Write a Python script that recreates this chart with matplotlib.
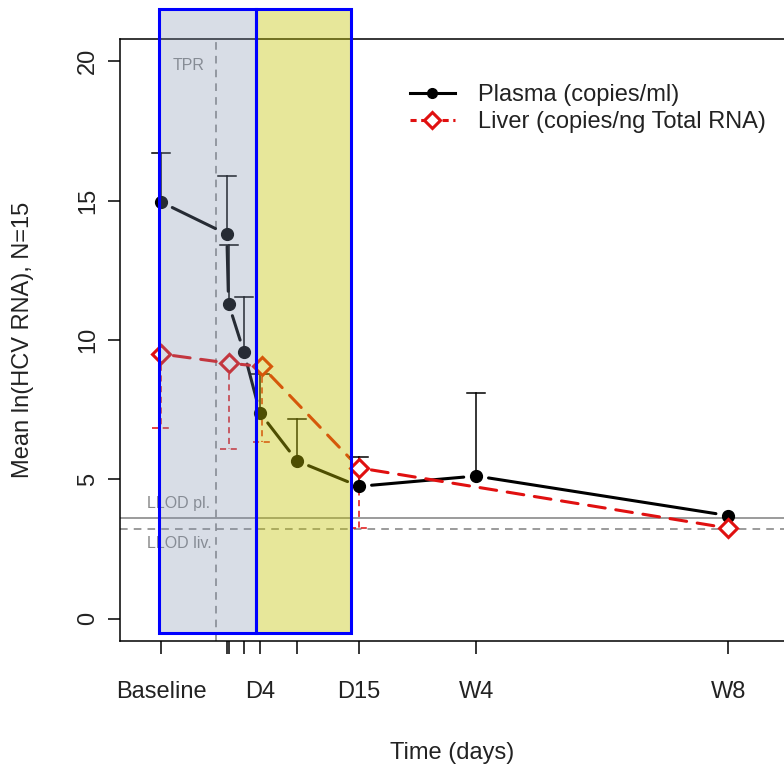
import matplotlib
matplotlib.use("Agg")
import matplotlib.pyplot as plt
from matplotlib.patches import Rectangle
from matplotlib.lines import Line2D

plt.rcParams['font.family'] = ['Liberation Sans', 'DejaVu Sans']

# ---------------- data ----------------
plasma_x = [-7, 0.3, 0.5, 2.2, 4, 8.1, 15, 28, 56]
plasma_y = [14.95, 13.8, 11.3, 9.57, 7.38, 5.66, 4.75, 5.12, 3.7]
plasma_hi = [16.7, 15.9, 13.4, 11.55, 8.78, 7.17, 5.8, 8.1, None]

liver_x = [-7, 0.5, 4.2, 15, 56]
liver_y = [9.5, 9.17, 9.05, 5.41, 3.25]
liver_lo = [6.85, 6.1, 6.35, 3.26, None]

tick_pos = [-7, 0.3, 0.5, 2.2, 4, 8.1, 15, 28, 56]
tick_lab = ["Baseline", "", "", "", "D4", "", "D15", "W4", "W8"]

llod_plasma = 3.62
llod_liver = 3.23
tpr_x = -0.9
blue_band = (-7.2, 3.55)
yellow_band = (3.55, 14.1)
band_y = (-0.5, 21.86)

# ---------------- figure ----------------
W, H = 784, 765
fig = plt.figure(figsize=(W / 100, H / 100), dpi=100)
ax = fig.add_axes([120 / W, (H - 641) / H, 665 / W, 602 / H])
ax.set_xlim(-11.56, 62.3)
ax.set_ylim(-0.8, 20.8)

red = '#e01010'

# reference lines
ax.axhline(llod_plasma, color='#808080', lw=1.1, zorder=1)
ax.axhline(llod_liver, color='#808080', lw=1.1, ls=(0, (5, 4)), zorder=1)
ax.axvline(tpr_x, color='#808080', lw=1.1, ls=(0, (5, 4)), zorder=1)
ax.text(-8.6, llod_plasma + 0.25, "LLOD pl.", color='#8a8a8a', fontsize=11.5,
        ha='left', va='bottom', zorder=1)
ax.text(-8.6, llod_liver - 0.25, "LLOD liv.", color='#8a8a8a', fontsize=11.5,
        ha='left', va='top', zorder=1)
ax.text(-5.7, 19.85, "TPR", color='#8a8a8a', fontsize=11.5, ha='left',
        va='center', zorder=1)

# lines with gaps around points (R type = "b")
def gapped(xs, ys, color, ls):
    for i in range(len(xs) - 1):
        ax.annotate('', xy=(xs[i + 1], ys[i + 1]), xytext=(xs[i], ys[i]),
                    arrowprops=dict(arrowstyle='-', shrinkA=9, shrinkB=9,
                                    lw=2.2, color=color, linestyle=ls),
                    zorder=2)

gapped(plasma_x, plasma_y, 'black', '-')
gapped(liver_x, liver_y, red, (0, (5.5, 3.5)))

# error bars
for x, y, hi in zip(plasma_x, plasma_y, plasma_hi):
    if hi is None:
        continue
    ax.plot([x, x], [y, hi], color='black', lw=1.1, zorder=3)
    ax.plot([x - 1.0, x + 1.0], [hi, hi], color='black', lw=1.1, zorder=3)
for x, y, lo in zip(liver_x, liver_y, liver_lo):
    if lo is None:
        continue
    ax.plot([x, x], [y, lo], color=red, lw=1.1, ls=(0, (4, 3)), zorder=3)
    ax.plot([x - 1.0, x + 1.0], [lo, lo], color=red, lw=1.1, ls=(0, (4, 3)), zorder=3)

# markers
ax.plot(plasma_x, plasma_y, 'o', color='black', ms=8.5, ls='none', zorder=4)
ax.plot(liver_x, liver_y, 'D', mfc='white', mec=red, mew=2.2, ms=9.5,
        ls='none', zorder=4)

# shaded periods (drawn on top, semi-transparent)
ax.add_patch(Rectangle((blue_band[0], band_y[0]), blue_band[1] - blue_band[0],
                       band_y[1] - band_y[0], facecolor=(128/255, 145/255, 175/255, 0.3),
                       edgecolor='#0000ff', lw=2.2, clip_on=False, zorder=10))
ax.add_patch(Rectangle((yellow_band[0], band_y[0]), yellow_band[1] - yellow_band[0],
                       band_y[1] - band_y[0], facecolor=(197/255, 197/255, 3/255, 0.4),
                       edgecolor='#0000ff', lw=2.2, clip_on=False, zorder=10))

# axes styling
for s in ['left', 'bottom', 'top']:
    ax.spines[s].set_linewidth(1.1)
ax.spines['right'].set_visible(False)
ax.set_yticks([0, 5, 10, 15, 20])
ax.set_yticklabels(['0', '5', '10', '15', '20'], rotation=90, va='center',
                   fontsize=17, color='#222222')
ax.set_xticks(tick_pos)
ax.set_xticklabels(tick_lab, fontsize=17, color='#222222')
ax.tick_params(axis='both', direction='out', length=9, width=1.1)
ax.tick_params(axis='x', pad=20)
ax.tick_params(axis='y', pad=6)
ax.set_ylabel("Mean ln(HCV RNA), N=15", fontsize=17, color='#222222', labelpad=31)
ax.set_xlabel("Time (days)", fontsize=17, color='#222222', labelpad=28)

handles = [
    Line2D([], [], color='black', lw=2.2, marker='o', ms=7),
    Line2D([], [], color=red, lw=2.2, ls=(0, (2, 1.5)), marker='D',
           mfc='white', mec=red, mew=2.2, ms=8),
]
ax.legend(handles, ["Plasma (copies/ml)", "Liver (copies/ng Total RNA)"],
          loc='center left', bbox_to_anchor=(0.436, 0.884), frameon=False,
          fontsize=17, borderaxespad=0, borderpad=0, handlelength=1.9,
          handletextpad=1.0, labelspacing=0.2, labelcolor='#222222')

fig.savefig("out.png", dpi=100)
